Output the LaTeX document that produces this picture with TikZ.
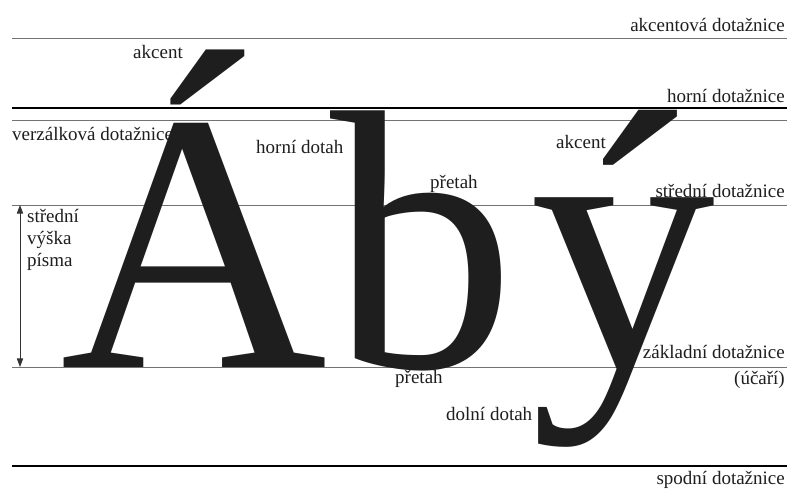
\documentclass[tikz,border=0pt]{standalone}
\usepackage{fontspec}
\setmainfont{Liberation Serif}
\newfontfamily\glyphfont{Liberation Serif}
\usetikzlibrary{positioning,arrows.meta}
\definecolor{inkgray}{HTML}{1E1E1E}
\tikzset{
  guide/.style={draw=black!55, line width=0.8pt},
  guidemain/.style={draw=black, line width=1.1pt},
  linelabel/.style={font=\fontsize{19}{22}\selectfont, inner sep=0pt, text=inkgray},
  glyph/.style={font=\glyphfont\fontsize{370}{370}\selectfont, inner sep=0pt,
    anchor=base west, text=inkgray},
  dimarrow/.style={{Triangle[length=3mm,width=2.2mm]}-{Triangle[length=3mm,width=2.2mm]}, line width=0.7pt, draw=black!80},
}

\begin{document}
\begin{tikzpicture}[x=1pt,y=-1pt]
  \useasboundingbox[fill=white] (0,0) rectangle (787,488);
  % dotaznice
  \foreach \yy in {38,120,205,367} \draw[guide] (12,\yy) -- (787,\yy);
  \foreach \yy in {108,466} \draw[guidemain] (12,\yy) -- (787,\yy);
  % pismena
  \node[glyph] (capA) at (60,367) {Á};
  \node[glyph] (lowb) at (330,367) {b};
  \node[glyph] (lowy) at (530,367) {ý};
  % popisky vpravo
  \node[linelabel, anchor=base east] (akcline) at (785,31) {akcentová dotažnice};
  \node[linelabel, anchor=base east] (hornline) at (785,102) {horní dotažnice};
  \node[linelabel, anchor=base east] (stredline) at (785,197) {střední dotažnice};
  \node[linelabel, anchor=base east] (zaklline) at (785,358) {základní dotažnice};
  \node[linelabel, anchor=base east] (ucari) at (785,384) {(účaří)};
  \node[linelabel, anchor=base east] (spodline) at (785,484) {spodní dotažnice};
  % popisky u pismen
  \node[linelabel, anchor=base west] (verzline) at (12,140) {verzálková dotažnice};
  \node[linelabel, anchor=base west] (akcA) at (133,58) {akcent};
  \node[linelabel, anchor=base west] (akcy) at (556,148) {akcent};
  \node[linelabel, anchor=base west] (horndotah) at (256,153) {horní dotah};
  \node[linelabel, anchor=base west] (pretahtop) at (430,188) {přetah};
  \node[linelabel, anchor=base west] (pretahbot) at (395,383) {přetah};
  \node[linelabel, anchor=base west] (dolndotah) at (446,420) {dolní dotah};
  % stredni vyska
  \coordinate (xtop) at (20,205);
  \coordinate (xbot) at (20,367);
  \draw[dimarrow] (xtop) -- (xbot);
  \node[linelabel, anchor=base west, align=left] (xheight) at (27,266)
    {střední\\výška\\písma};
\end{tikzpicture}
\end{document}
